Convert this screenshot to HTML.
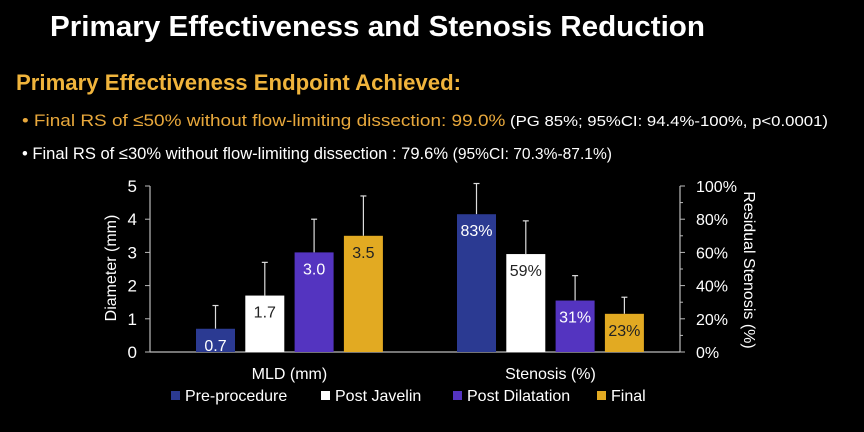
<!DOCTYPE html>
<html><head><meta charset="utf-8"><style>
html,body{margin:0;padding:0;background:#000;width:864px;height:432px;overflow:hidden}
svg{display:block;font-family:"Liberation Sans",Arial,sans-serif}
</style></head><body>
<svg id="chart" width="864" height="432" viewBox="0 0 864 432">
<rect width="864" height="432" fill="#000"/>
<text x="50" y="36" fill="#fff" font-size="29" font-weight="bold" textLength="655" lengthAdjust="spacingAndGlyphs">Primary Effectiveness and Stenosis Reduction</text>
<text x="16" y="90" fill="#f0b43c" font-size="22" font-weight="bold" textLength="445" lengthAdjust="spacingAndGlyphs">Primary Effectiveness Endpoint Achieved:</text>
<text x="22" y="126" font-size="17" textLength="806" lengthAdjust="spacingAndGlyphs"><tspan fill="#e8a83c">•  Final RS of ≤50% without flow-limiting dissection: 99.0%</tspan><tspan fill="#fff" font-size="15"> (PG 85%; 95%CI: 94.4%-100%, p&lt;0.0001)</tspan></text>
<text x="22" y="159" font-size="17" fill="#fff" textLength="590" lengthAdjust="spacingAndGlyphs">•  Final RS of ≤30% without flow-limiting dissection : 79.6% <tspan font-size="16">(95%CI: 70.3%-87.1%)</tspan></text>
<g id="plot"></g>
</svg>
<script>
const groups = ["MLD (mm)", "Stenosis (%)"];
const seriesNames = ["Pre-procedure", "Post Javelin", "Post Dilatation", "Final"];
const mldValues = [0.7, 1.7, 3.0, 3.5];
const mldErrTop = [1.4, 2.7, 4.0, 4.7];
const mldLabels = ["0.7", "1.7", "3.0", "3.5"];
const stenValues = [83, 59, 31, 23];
const stenErrTop = [101.5, 79, 46, 33];
const stenLabels = ["83%", "59%", "31%", "23%"];
const leftTicks = [0, 1, 2, 3, 4, 5];
const rightTicks = ["0%", "20%", "40%", "60%", "80%", "100%"];
const colors = ["#2b3a92", "#ffffff", "#5434c0", "#e2aa22"];
const labelColors = ["#fff", "#222", "#fff", "#222"];

const ns = "http://www.w3.org/2000/svg";
const g = document.getElementById("plot");
const x0 = 150, x1 = 680, yBase = 352, yTop = 186;
const yL = v => yBase - (v / 5) * (yBase - yTop);
const yR = v => yBase - (v / 100) * (yBase - yTop);
const groupStart = [196, 457];
const step = 49.3, bw = 39;
function mk(tag, attrs, text) {
  const e = document.createElementNS(ns, tag);
  for (const k in attrs) e.setAttribute(k, attrs[k]);
  if (text !== undefined) e.textContent = text;
  g.appendChild(e);
  return e;
}
let e = mk("line", {x1: x0, y1: yBase, x2: x1, y2: yBase, stroke: "#bbb", "stroke-width": 1.2});


e = mk("line", {x1: x0, y1: yTop, x2: x0, y2: yBase, stroke: "#bbb", "stroke-width": 1.2});


e = mk("line", {x1: x1, y1: yTop, x2: x1, y2: yBase, stroke: "#bbb", "stroke-width": 1.2});


leftTicks.forEach(t => {
  const y = yL(t);
  mk("line", {x1: x0 - 5, y1: y, x2: x0, y2: y, stroke: "#bbb"});
  const tx = mk("text", {x: 137, y: y + 6, fill: "#fff", "font-size": 17, "text-anchor": "end"}, String(t));
  
  
});
rightTicks.forEach((t, i) => {
  const y = yR(i * 20);
  mk("line", {x1: x1, y1: y, x2: x1 + 5, y2: y, stroke: "#bbb"});
  if (i < 5) mk("line", {x1: x1, y1: y - (yBase - yTop) / 10, x2: x1 + 3, y2: y - (yBase - yTop) / 10, stroke: "#bbb"});
  const tx = mk("text", {x: 696, y: y + 6, fill: "#fff", "font-size": 16}, t);
  
  
});
e = mk("text", {x: 0, y: 0, fill: "#fff", "font-size": 16, "text-anchor": "middle", transform: "translate(116,268) rotate(-90)"}, "Diameter (mm)");


e = mk("text", {x: 0, y: 0, fill: "#fff", "font-size": 16, "text-anchor": "middle", transform: "translate(744,270) rotate(90)"}, "Residual Stenosis (%)");



function drawGroup(gi, vals, errs, labels, yf) {
  vals.forEach((v, i) => {
    const x = groupStart[gi] + i * step;
    const cx = x + bw / 2;
    const el = mk("line", {x1: cx, y1: yf(errs[i]), x2: cx, y2: yf(v), stroke: "#ddd", "stroke-width": 1.2});
    
    
    mk("line", {x1: cx - 3, y1: yf(errs[i]), x2: cx + 3, y2: yf(errs[i]), stroke: "#ddd", "stroke-width": 1.2});
    const r = mk("rect", {x: x, y: yf(v), width: bw, height: yBase - yf(v), fill: colors[i]});
    
    
    const t = mk("text", {x: cx, y: yf(v) + 22, fill: labelColors[i], "font-size": 16, "text-anchor": "middle"}, labels[i]);
    
    
  });
  const gt = mk("text", {x: groupStart[gi] + 1.5 * step + bw / 2, y: 379, fill: "#fff", "font-size": 16, "text-anchor": "middle"}, groups[gi]);
  
  
}
drawGroup(0, mldValues, mldErrTop, mldLabels, yL);
drawGroup(1, stenValues, stenErrTop, stenLabels, yR);

const legX = [171, 321, 453, 597];
seriesNames.forEach((n, i) => {
  const r = mk("rect", {x: legX[i], y: 391, width: 9, height: 9, fill: colors[i]});
  
  
  const t = mk("text", {x: legX[i] + 14, y: 401, fill: "#fff", "font-size": 16}, n);
  
  
});
</script>
</body></html>
